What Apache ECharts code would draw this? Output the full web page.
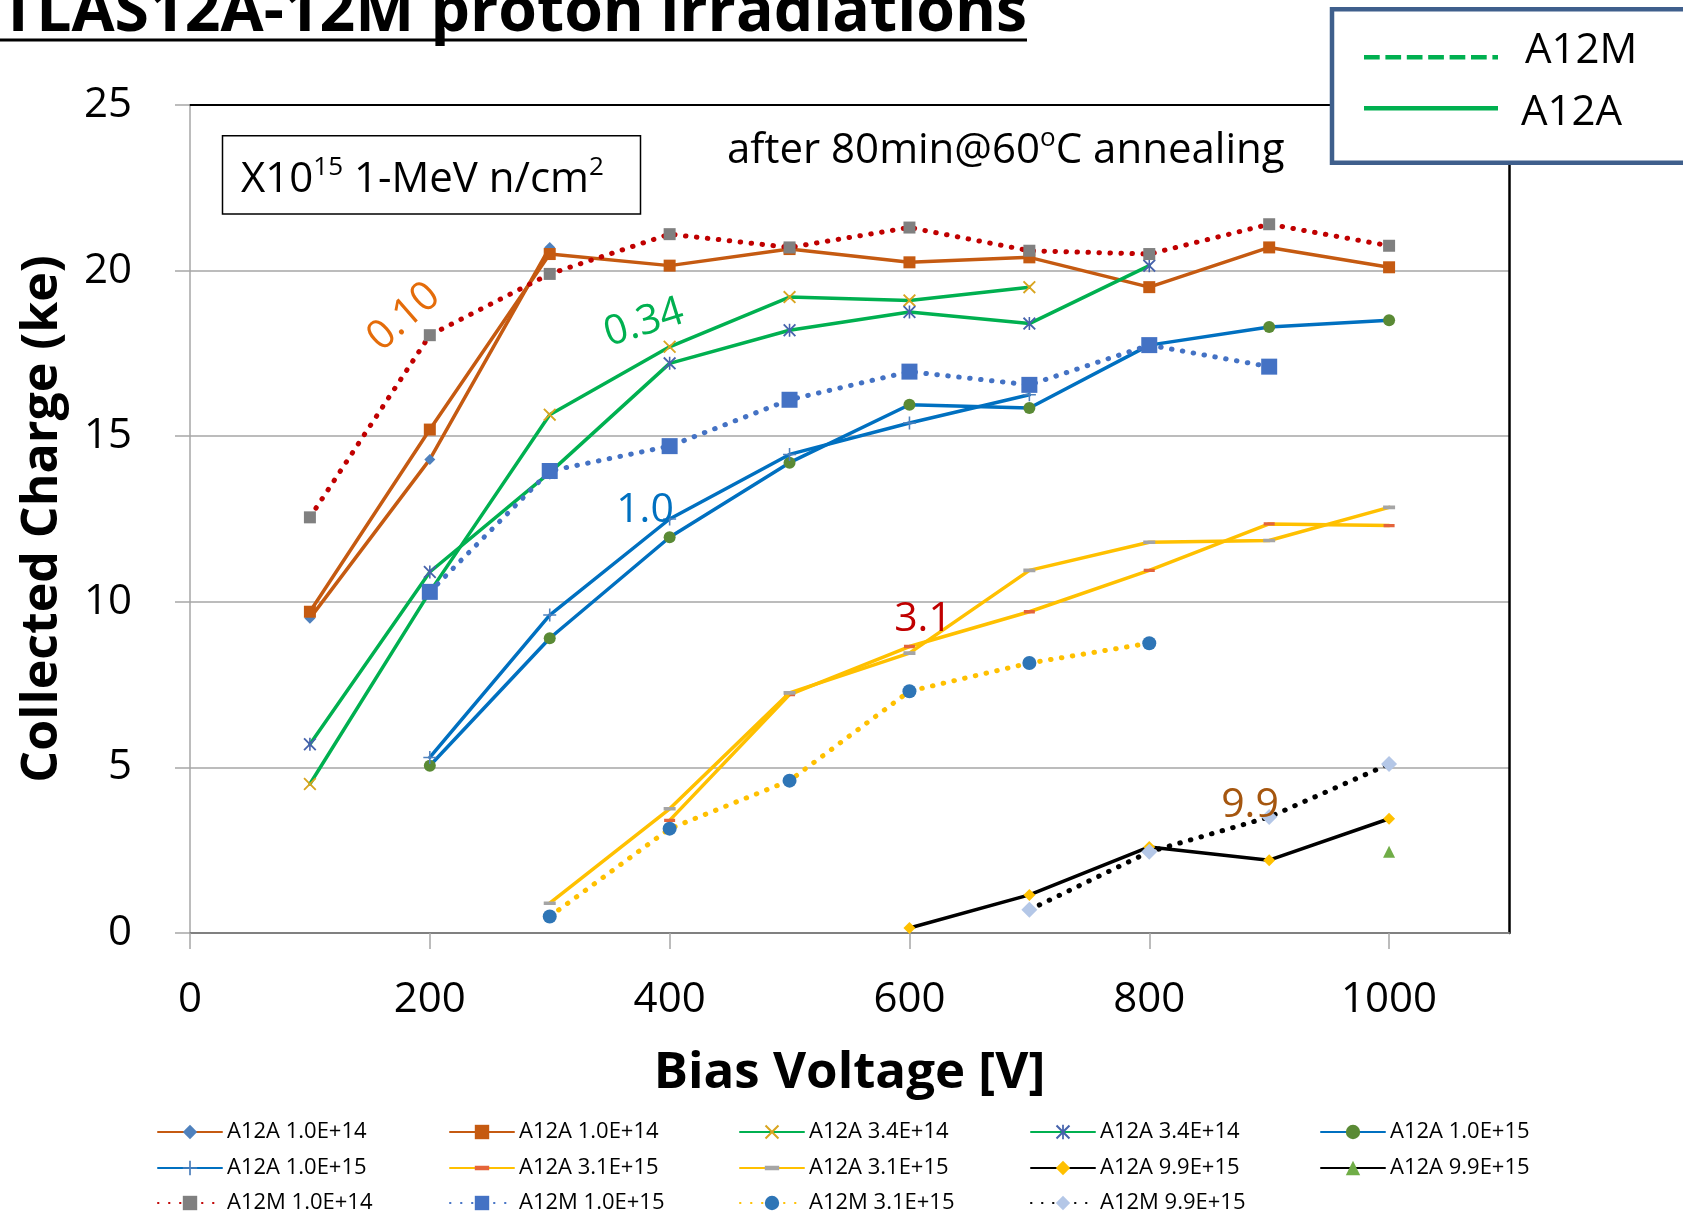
<!DOCTYPE html>
<html><head><meta charset="utf-8">
<script src="https://cdn.jsdelivr.net/npm/echarts@6/dist/echarts.min.js"></script>
<style>html,body{margin:0;padding:0;background:#fff}#c{width:1683px;height:1216px}</style>
</head><body><div id="c"></div>
<script>
// ---------- data ----------
const voltages = [100, 200, 300, 400, 500, 600, 700, 800, 900, 1000];
const xTicks = [0, 200, 400, 600, 800, 1000];
const seriesNames = ['A12A 1.0E+14', 'A12A 1.0E+14 ', 'A12A 3.4E+14', 'A12A 3.4E+14 ', 'A12A 1.0E+15',
  'A12A 1.0E+15 ', 'A12A 3.1E+15', 'A12A 3.1E+15 ', 'A12A 9.9E+15', 'A12A 9.9E+15 ',
  'A12M 1.0E+14', 'A12M 1.0E+15', 'A12M 3.1E+15', 'A12M 9.9E+15'];
const a12a_1e14_a = [9.5, 14.3, 20.7, null, null, null, null, null, null, null];
const a12a_1e14_b = [9.7, 15.2, 20.5, 20.15, 20.65, 20.25, 20.4, 19.5, 20.7, 20.1];
const a12a_34e14_a = [4.5, 10.3, 15.65, 17.7, 19.2, 19.1, 19.5, null, null, null];
const a12a_34e14_b = [5.7, 10.9, 13.9, 17.2, 18.2, 18.75, 18.4, 20.15, null, null];
const a12a_1e15_a = [null, 5.05, 8.9, 11.95, 14.2, 15.95, 15.85, 17.75, 18.3, 18.5];
const a12a_1e15_b = [null, 5.3, 9.6, 12.5, 14.45, 15.4, 16.25, null, null, null];
const a12a_31e15_a = [null, null, null, 3.4, 7.2, 8.65, 9.7, 10.95, 12.35, 12.3];
const a12a_31e15_b = [null, null, 0.9, 3.75, 7.25, 8.45, 10.95, 11.8, 11.85, 12.85];
const a12a_99e15_a = [null, null, null, null, null, 0.15, 1.15, 2.6, 2.2, 3.45];
const a12a_99e15_b = [null, null, null, null, null, null, null, null, null, 2.45];
const a12m_1e14 = [12.55, 18.05, 19.9, 21.1, 20.7, 21.3, 20.6, 20.5, 21.4, 20.75];
const a12m_1e15 = [null, 10.3, 13.95, 14.7, 16.1, 16.95, 16.55, 17.75, 17.1, null];
const a12m_31e15 = [null, null, 0.5, 3.15, 4.6, 7.3, 8.15, 8.75, null, null];
const a12m_99e15 = [null, null, null, null, null, null, 0.7, 2.45, 3.5, 5.1];
const seriesValues = [a12a_1e14_a, a12a_1e14_b, a12a_34e14_a, a12a_34e14_b, a12a_1e15_a, a12a_1e15_b,
  a12a_31e15_a, a12a_31e15_b, a12a_99e15_a, a12a_99e15_b, a12m_1e14, a12m_1e15, a12m_31e15, a12m_99e15];
const fluenceLabels = ['0.10', '0.34', '1.0', '3.1', '9.9'];

// ---------- styles ----------
const FF = "'Open Sans', 'Noto Sans', sans-serif";
const P_X = 'path://M1,0 L5,4 L9,0 L10,1 L6,5 L10,9 L9,10 L5,6 L1,10 L0,9 L4,5 L0,1 Z';
const P_AST = 'path://M1,0 L5,4 L9,0 L10,1 L6,5 L10,9 L9,10 L5,6 L1,10 L0,9 L4,5 L0,1 Z M4.4,0 L5.6,0 L5.6,10 L4.4,10 Z';
const P_PLUS = 'path://M4.4,0 L5.6,0 L5.6,4.4 L10,4.4 L10,5.6 L5.6,5.6 L5.6,10 L4.4,10 L4.4,5.6 L0,5.6 L0,4.4 L4.4,4.4 Z';
// dash marker inside a square bounding box (zero-area anchors keep the box square)
const P_DASH = 'path://M0,3.5 L10,3.5 L10,6.5 L0,6.5 Z M5,0 L5.001,0 Z M5,10 L5.001,10 Z';
const DOT = [0.5, 10.5];
const styles = [
  {sym: 'diamond', size: 11, mc: '#4F81BD', lc: '#C55A11', w: 3.5, t: 'solid'},
  {sym: 'rect', size: 12, mc: '#C55A11', lc: '#C55A11', w: 3.5, t: 'solid'},
  {sym: P_X, size: 13, mc: '#D9A520', lc: '#00B050', w: 3.5, t: 'solid'},
  {sym: P_AST, size: 13, mc: '#4663AC', lc: '#00B050', w: 3.5, t: 'solid'},
  {sym: 'circle', size: 12, mc: '#5A8A35', lc: '#0070C0', w: 3.5, t: 'solid'},
  {sym: P_PLUS, size: 13, mc: '#4F81BD', lc: '#0070C0', w: 3.5, t: 'solid'},
  {sym: P_DASH, size: 11, mc: '#E4643A', lc: '#FFC000', w: 3.5, t: 'solid'},
  {sym: P_DASH, size: 12, mc: '#A5A5A5', lc: '#FFC000', w: 3.5, t: 'solid'},
  {sym: 'diamond', size: 12, mc: '#FFC000', lc: '#000000', w: 3.5, t: 'solid'},
  {sym: 'triangle', size: 12, mc: '#70AD47', lc: '#000000', w: 3.5, t: 'solid'},
  {sym: 'rect', size: 12, mc: '#808080', lc: '#C00000', w: 5, t: DOT},
  {sym: 'rect', size: 16, mc: '#4472C4', lc: '#4472C4', w: 5, t: DOT},
  {sym: 'circle', size: 14, mc: '#2E75B6', lc: '#FFC000', w: 5, t: DOT},
  {sym: 'diamond', size: 16, mc: '#B4C7E7', lc: '#000000', w: 5, t: DOT}
];

const series = seriesNames.map((n, k) => ({
  name: n, type: 'line', animation: false,
  data: voltages.map((v, i) => [v, seriesValues[k][i]]),
  symbol: styles[k].sym, symbolSize: styles[k].size, showSymbol: true, connectNulls: false,
  itemStyle: {color: styles[k].mc, borderWidth: 0},
  lineStyle: {color: styles[k].lc, width: styles[k].w, type: styles[k].t, cap: 'round'},
  emphasis: {disabled: true}, z: 2 + k * 0.01
}));

const legendCols = [157, 449, 739, 1030, 1320];
const legendRows = [1132, 1168, 1203];
const legends = seriesNames.map((n, i) => ({
  data: [n], left: legendCols[i % 5], top: legendRows[Math.floor(i / 5)] - 11,
  padding: 0, itemWidth: 64, itemHeight: 18, itemGap: 0, selectedMode: false,
  formatter: s => s.trim(),
  textStyle: {fontSize: 22, lineHeight: 22, color: '#000', fontFamily: FF}
}));

const labelSpecs = [
  {x: 404, y: 317, r: 0.72, c: '#E46C0A'},
  {x: 644, y: 323, r: 0.30, c: '#00B050'},
  {x: 645, y: 510, r: 0, c: '#0070C0'},
  {x: 923, y: 619, r: 0, c: '#C00000'},
  {x: 1250, y: 805, r: 0, c: '#A5560F'}
];

const graphics = [
  {type: 'text', x: 0, y: 13, z: 100, style: {text: 'TLAS12A-12M proton irradiations', font: 'bold 62.5px ' + FF, fill: '#000', align: 'left', verticalAlign: 'middle'}},
  {type: 'line', z: 100, shape: {x1: 0, y1: 40, x2: 1027, y2: 40}, style: {stroke: '#000', lineWidth: 3}},
  {type: 'rect', z: 100, shape: {x: 222.5, y: 135.7, width: 418, height: 78.3}, style: {fill: '#fff', stroke: '#000', lineWidth: 1.5}},
  {type: 'text', x: 241, y: 180, z: 101, style: {
    text: '{n|X10}{s|15}{n| 1-MeV n/cm}{s|2}', align: 'left', verticalAlign: 'middle',
    rich: {n: {fontSize: 42, fontFamily: FF, fill: '#000', lineHeight: 50}, s: {fontSize: 26, fontFamily: FF, fill: '#000', lineHeight: 30, verticalAlign: 'top'}}}},
  {type: 'text', x: 727, y: 151, z: 100, style: {
    text: '{n|after 80min@60}{s|o}{n|C annealing}', align: 'left', verticalAlign: 'middle',
    rich: {n: {fontSize: 42, fontFamily: FF, fill: '#000', lineHeight: 50}, s: {fontSize: 26, fontFamily: FF, fill: '#000', lineHeight: 30, verticalAlign: 'top'}}}},
  {type: 'rect', z: 100, shape: {x: 1332, y: 9.3, width: 420, height: 153.4}, style: {fill: '#fff', stroke: '#3F5F8C', lineWidth: 4.5}},
  {type: 'line', z: 101, shape: {x1: 1364, y1: 57.3, x2: 1498, y2: 57.3}, style: {stroke: '#00B050', lineWidth: 4.5, lineDash: [15.7, 5.7]}},
  {type: 'line', z: 101, shape: {x1: 1364, y1: 108.3, x2: 1498, y2: 108.3}, style: {stroke: '#00B050', lineWidth: 4.5}},
  {type: 'text', x: 1525, y: 51, z: 101, style: {text: 'A12M', font: '42px ' + FF, fill: '#000', align: 'left', verticalAlign: 'middle'}},
  {type: 'text', x: 1521, y: 113, z: 101, style: {text: 'A12A', font: '42px ' + FF, fill: '#000', align: 'left', verticalAlign: 'middle'}}
].concat(labelSpecs.map((l, i) => ({
  type: 'text', x: l.x, y: l.y, rotation: l.r, z: 100,
  style: {text: fluenceLabels[i], font: '41px ' + FF, fill: l.c, align: 'center', verticalAlign: 'middle'}
})));

const chart = echarts.init(document.getElementById('c'), null, {renderer: 'canvas'});
chart.setOption({
  animation: false,
  backgroundColor: '#fff',
  textStyle: {fontFamily: FF},
  grid: {left: 190, right: 174, top: 105, bottom: 283, containLabel: false},
  legend: legends,
  xAxis: [{
    type: 'value', min: 0, max: 1100, interval: 200,
    axisLine: {show: true, onZero: false, lineStyle: {color: '#808080', width: 2}},
    axisTick: {show: true, length: 16, customValues: xTicks, lineStyle: {color: '#A6A6A6', width: 1.5}},
    axisLabel: {customValues: xTicks, fontSize: 42, lineHeight: 42, color: '#000', margin: 46, fontFamily: FF,
      formatter: v => (v > 1000 ? '' : String(v))},
    splitLine: {show: false},
    name: 'Bias Voltage [V]', nameLocation: 'middle', nameGap: 115,
    nameTextStyle: {fontSize: 51, lineHeight: 51, fontWeight: 'bold', color: '#000', fontFamily: FF}
  }, {
    type: 'value', position: 'top', min: 0, max: 1100,
    axisLine: {show: true, onZero: false, lineStyle: {color: '#000', width: 2}},
    axisTick: {show: false}, axisLabel: {show: false}, splitLine: {show: false}
  }],
  yAxis: [{
    type: 'value', min: 0, max: 25, interval: 5,
    axisLine: {show: true, onZero: false, lineStyle: {color: '#A6A6A6', width: 1.5}},
    axisTick: {show: true, length: 15, lineStyle: {color: '#A6A6A6', width: 1.5}},
    axisLabel: {fontSize: 42, color: '#000', margin: 58, fontFamily: FF},
    splitLine: {show: true, lineStyle: {color: '#A6A6A6', width: 1.5}},
    name: 'Collected Charge (ke)', nameLocation: 'middle', nameGap: 122, nameRotate: 90,
    nameTextStyle: {fontSize: 50, fontWeight: 'bold', color: '#000', fontFamily: FF}
  }, {
    type: 'value', position: 'right', min: 0, max: 25,
    axisLine: {show: true, onZero: false, lineStyle: {color: '#000', width: 2.5}},
    axisTick: {show: false}, axisLabel: {show: false}, splitLine: {show: false}
  }],
  series: series,
  graphic: {elements: graphics}
});
</script></body></html>
